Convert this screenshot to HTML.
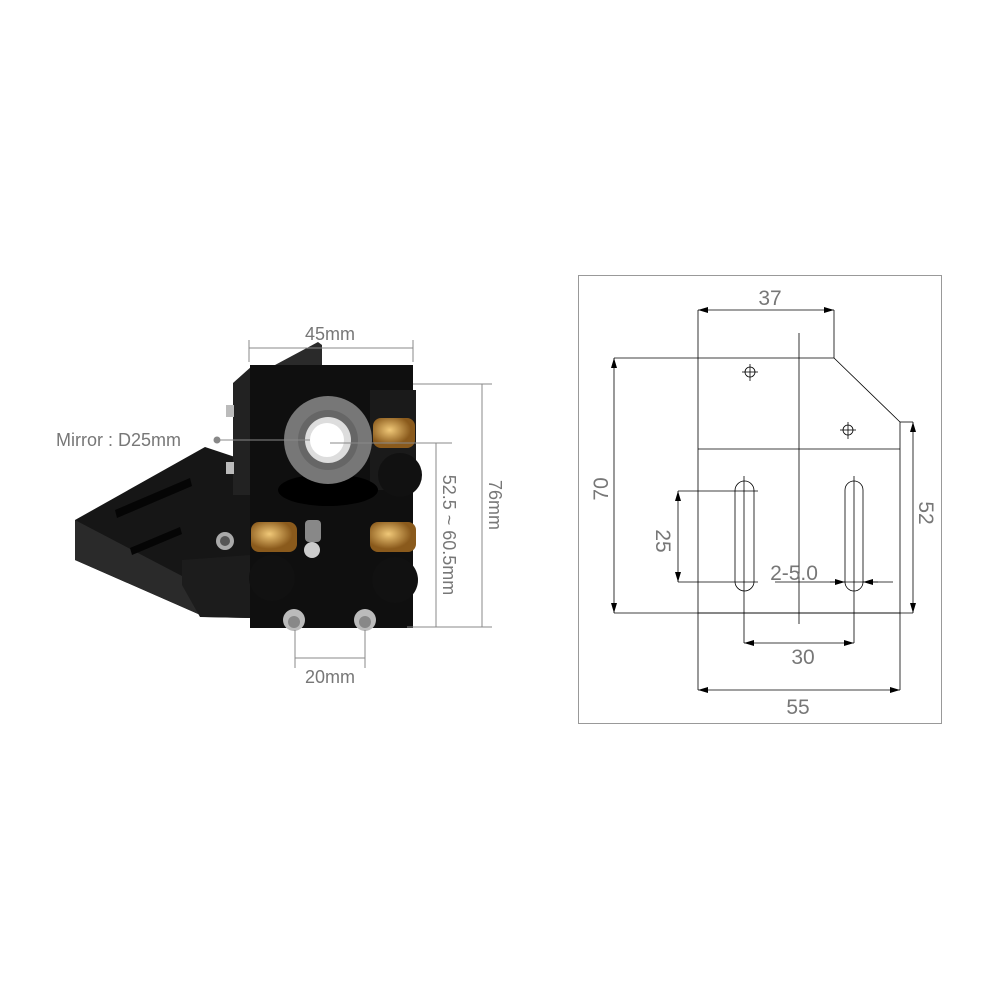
<!DOCTYPE html>
<html><head><style>
body{margin:0;background:#fff}
svg{display:block}
text{font-family:"Liberation Sans",sans-serif;fill:#777}
</style></head><body>
<svg width="1000" height="1000" viewBox="0 0 1000 1000" xmlns="http://www.w3.org/2000/svg">
<defs>
<marker id="a" viewBox="0 0 10 6" refX="10" refY="3" markerWidth="10" markerHeight="6" orient="auto-start-reverse" markerUnits="userSpaceOnUse"><path d="M0,0L10,3L0,6z" fill="#000"/></marker>
<radialGradient id="br" cx="0.4" cy="0.4"><stop offset="0" stop-color="#f0c878"/><stop offset="1" stop-color="#8a5a1c"/></radialGradient>
</defs>
<rect width="1000" height="1000" fill="#fff"/>
<!-- PHOTO -->
<polygon points="75,520 205,447 250,462 250,618 205,617 75,560" fill="#161616"/>
<polygon points="75,520 75,560 205,617 205,588" fill="#2a2a2a"/>
<polygon points="115,510 190,478 192,486 117,518" fill="#050505"/>
<polygon points="130,548 180,527 182,534 132,555" fill="#050505"/>
<polygon points="182,560 250,555 250,618 200,617 182,585" fill="#1c1c1c"/>
<circle cx="225" cy="541" r="9" fill="#aaa"/><circle cx="225" cy="541" r="5" fill="#555"/>
<polygon points="233,383 252,366 252,495 233,495" fill="#222"/>
<rect x="226" y="405" width="8" height="12" fill="#bbb"/><rect x="226" y="462" width="8" height="12" fill="#bbb"/>
<polygon points="275,365 318,342 322,345 322,365" fill="#2a2a2a"/>
<rect x="250" y="365" width="163" height="263" fill="#0f0f0f"/>
<rect x="370" y="390" width="46" height="100" fill="#1a1a1a"/>
<ellipse cx="328" cy="490" rx="50" ry="16" fill="#000"/>
<circle cx="328" cy="440" r="44" fill="#777"/>
<circle cx="328" cy="440" r="30" fill="#666"/>
<circle cx="328" cy="440" r="23" fill="#ddd"/>
<circle cx="327" cy="440" r="17" fill="#fff"/>
<rect x="373" y="418" width="42" height="30" rx="8" fill="url(#br)"/>
<circle cx="400" cy="475" r="22" fill="#111"/>
<rect x="251" y="522" width="46" height="30" rx="8" fill="url(#br)"/>
<circle cx="272" cy="578" r="23" fill="#111"/>
<rect x="370" y="522" width="46" height="30" rx="8" fill="url(#br)"/>
<circle cx="395" cy="580" r="23" fill="#111"/>
<rect x="305" y="520" width="16" height="22" rx="4" fill="#888"/>
<circle cx="312" cy="550" r="8" fill="#ccc"/>
<circle cx="294" cy="620" r="11" fill="#bbb"/><circle cx="294" cy="622" r="6" fill="#888"/>
<circle cx="365" cy="620" r="11" fill="#bbb"/><circle cx="365" cy="622" r="6" fill="#888"/>
<!-- photo dims -->
<g stroke="#888" stroke-width="1" fill="none">
<line x1="249" y1="348" x2="413" y2="348"/><line x1="249" y1="340" x2="249" y2="362"/><line x1="413" y1="340" x2="413" y2="362"/>
<line x1="413" y1="384" x2="492" y2="384"/><line x1="407" y1="627" x2="492" y2="627"/><line x1="482" y1="384" x2="482" y2="627"/>
<line x1="436" y1="443" x2="436" y2="627"/><line x1="330" y1="443" x2="452" y2="443"/>
<line x1="217" y1="440" x2="310" y2="440"/>
<line x1="295" y1="630" x2="295" y2="668"/><line x1="365" y1="630" x2="365" y2="668"/><line x1="295" y1="658" x2="365" y2="658"/>
</g>
<circle cx="217" cy="440" r="3.5" fill="#888"/>
<text x="330" y="340" font-size="18" text-anchor="middle">45mm</text>
<text x="56" y="446" font-size="18">Mirror : D25mm</text>
<text x="330" y="683" font-size="18" text-anchor="middle">20mm</text>
<text transform="translate(489,505) rotate(90)" font-size="18" text-anchor="middle">76mm</text>
<text transform="translate(443,535) rotate(90)" font-size="18" text-anchor="middle">52.5 ~ 60.5mm</text>
<!-- DRAWING -->
<rect x="578.5" y="275.5" width="363" height="448" fill="none" stroke="#999"/>
<g stroke="#000" stroke-width="0.8" fill="none">
<polyline points="698,358 834,358 900,422 900,613 698,613 698,358"/>
<line x1="698" y1="449" x2="900" y2="449"/>
<line x1="799" y1="333" x2="799" y2="624"/>
<circle cx="750" cy="372" r="5"/><line x1="742" y1="372" x2="758" y2="372"/><line x1="750" y1="364" x2="750" y2="381"/>
<circle cx="848" cy="430" r="5"/><line x1="840" y1="430" x2="856" y2="430"/><line x1="848" y1="422" x2="848" y2="439"/>
<rect x="735" y="481" width="19" height="110" rx="9.5"/>
<rect x="845" y="481" width="18" height="110" rx="9"/>
<line x1="698" y1="310" x2="698" y2="358"/><line x1="834" y1="310" x2="834" y2="358"/>
<line x1="698" y1="310" x2="834" y2="310" marker-start="url(#a)" marker-end="url(#a)"/>
<line x1="614" y1="358" x2="698" y2="358"/><line x1="614" y1="613" x2="913" y2="613"/>
<line x1="614" y1="358" x2="614" y2="613" marker-start="url(#a)" marker-end="url(#a)"/>
<line x1="900" y1="422" x2="913" y2="422"/>
<line x1="913" y1="422" x2="913" y2="613" marker-start="url(#a)" marker-end="url(#a)"/>
<line x1="678" y1="491" x2="758" y2="491"/><line x1="678" y1="582" x2="758" y2="582"/>
<line x1="678" y1="491" x2="678" y2="582" marker-start="url(#a)" marker-end="url(#a)"/>
<line x1="775" y1="582" x2="893" y2="582"/>
<line x1="830" y1="582" x2="845" y2="582" marker-end="url(#a)"/>
<line x1="878" y1="582" x2="863" y2="582" marker-end="url(#a)"/>
<line x1="744" y1="476" x2="744" y2="643"/><line x1="854" y1="476" x2="854" y2="643"/>
<line x1="744" y1="643" x2="854" y2="643" marker-start="url(#a)" marker-end="url(#a)"/>
<line x1="698" y1="613" x2="698" y2="690"/><line x1="900" y1="613" x2="900" y2="690"/>
<line x1="698" y1="690" x2="900" y2="690" marker-start="url(#a)" marker-end="url(#a)"/>
</g>
<text x="770" y="305" font-size="21" text-anchor="middle">37</text>
<text transform="translate(608,489) rotate(-90)" font-size="21" text-anchor="middle">70</text>
<text transform="translate(919,513) rotate(90)" font-size="21" text-anchor="middle">52</text>
<text transform="translate(656,541) rotate(90)" font-size="21" text-anchor="middle">25</text>
<text x="794" y="580" font-size="21" text-anchor="middle">2-5.0</text>
<text x="803" y="664" font-size="21" text-anchor="middle">30</text>
<text x="798" y="714" font-size="21" text-anchor="middle">55</text>
</svg>
</body></html>
